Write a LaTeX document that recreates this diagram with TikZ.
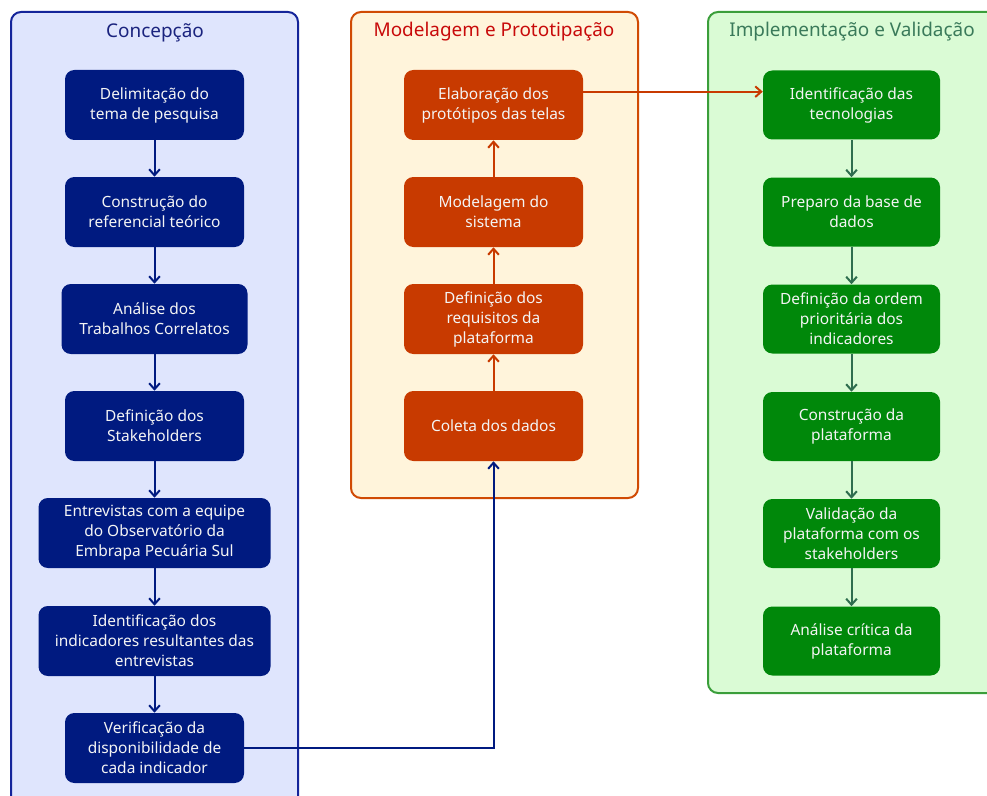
\documentclass[tikz,border=0pt]{standalone}
\usepackage{fontspec}
\setmainfont{Noto Sans}
\usetikzlibrary{arrows.meta}

\definecolor{cpanelfill}{HTML}{DFE5FD}
\definecolor{cpanelline}{HTML}{14249A}
\definecolor{cbox}{HTML}{001A80}
\definecolor{ctitle}{HTML}{1A237E}
\definecolor{mpanelfill}{HTML}{FFF4DB}
\definecolor{mpanelline}{HTML}{D04A04}
\definecolor{mbox}{HTML}{C83A00}
\definecolor{mtitle}{HTML}{C80A0A}
\definecolor{ipanelfill}{HTML}{DAFBD5}
\definecolor{ipanelline}{HTML}{3A9E3A}
\definecolor{ibox}{HTML}{00880A}
\definecolor{iarrow}{HTML}{2F6E4F}
\definecolor{ititle}{HTML}{3A7A5A}
\definecolor{boxtext}{HTML}{F4F4F4}

\tikzset{
  panel/.style={line width=1.5pt, rounded corners=7.5pt},
  stepbox/.style={rounded corners=7pt, text=boxtext, align=center,
    font=\fontsize{11.6}{15}\selectfont, inner sep=0pt,
    minimum width=134.25pt, minimum height=52.5pt},
  greenbox/.style={stepbox, fill=ibox, minimum width=132.75pt, minimum height=51.75pt},
  ptitle/.style={font=\fontsize{14.2}{17}\selectfont, inner sep=0pt},
  flowarrow/.style={line width=1.5pt, -{Straight Barb[length=4.5pt,width=8pt,line width=1.5pt]}},
}

\begin{document}
\begin{tikzpicture}[x=0.75pt, y=-0.75pt]
\useasboundingbox (0,0) rectangle (987,795);
\clip (0,0) rectangle (987,795);

% phase panels
\draw[panel, draw=cpanelline, fill=cpanelfill] (11,12) rectangle (298,820);
\draw[panel, draw=mpanelline, fill=mpanelfill] (351,12) rectangle (638,498);
\draw[panel, draw=ipanelline, fill=ipanelfill] (708,12) rectangle (1010,693);

\node[ptitle, text=ctitle] (tc) at (155,33) {Concepção};
\node[ptitle, text=mtitle] (tm) at (494,32) {Modelagem e Prototipação};
\node[ptitle, text=ititle] (ti) at (852,32) {Implementação e Validação};

% Concepção
\node[stepbox, fill=cbox] (c1) at (154.5,105) {Delimitação do\\tema de pesquisa};
\node[stepbox, fill=cbox] (c2) at (154.5,212) {Construção do\\referencial teórico};
\node[stepbox, fill=cbox, minimum width=139.5pt] (c3) at (154.5,319) {Análise dos\\Trabalhos Correlatos};
\node[stepbox, fill=cbox] (c4) at (154.5,426) {Definição dos\\Stakeholders};
\node[stepbox, fill=cbox, minimum width=174pt] (c5) at (154.5,533) {Entrevistas com a equipe\\do Observatório da\\Embrapa Pecuária Sul};
\node[stepbox, fill=cbox, minimum width=174pt] (c6) at (154.5,641) {Identificação dos\\indicadores resultantes das\\entrevistas};
\node[stepbox, fill=cbox] (c7) at (154.5,748) {Verificação da\\disponibilidade de\\cada indicador};

% Modelagem e Prototipação
\node[stepbox, fill=mbox] (m4) at (493.5,105) {Elaboração dos\\protótipos das telas};
\node[stepbox, fill=mbox] (m3) at (493.5,212) {Modelagem do\\sistema};
\node[stepbox, fill=mbox] (m2) at (493.5,319) {Definição dos\\requisitos da\\plataforma};
\node[stepbox, fill=mbox] (m1) at (493.5,426) {Coleta dos dados};

% Implementação e Validação
\node[greenbox] (i1) at (851.5,105) {Identificação das\\tecnologias};
\node[greenbox] (i2) at (851.5,212) {Preparo da base de\\dados};
\node[greenbox] (i3) at (851.5,319) {Definição da ordem\\prioritária dos\\indicadores};
\node[greenbox] (i4) at (851.5,426.5) {Construção da\\plataforma};
\node[greenbox] (i5) at (851.5,533.5) {Validação da\\plataforma com os\\stakeholders};
\node[greenbox] (i6) at (851.5,641) {Análise crítica da\\plataforma};

% connectors
\foreach \a/\b in {c1/c2, c2/c3, c3/c4, c4/c5, c5/c6, c6/c7}
  \draw[flowarrow, draw=cbox] (\a.south) -- (\a.south |- \b.north);
\foreach \a/\b in {m1/m2, m2/m3, m3/m4}
  \draw[flowarrow, draw=mbox] (\a.north) -- (\a.north |- \b.south);
\foreach \a/\b in {i1/i2, i2/i3, i3/i4, i4/i5, i5/i6}
  \draw[flowarrow, draw=iarrow] (\a.south) -- (\a.south |- \b.north);

\draw[flowarrow, draw=cbox] (c7.east) -| (m1.south);
\draw[flowarrow, draw=mbox] ([yshift=10pt]m4.east) -- ([yshift=10pt]m4.east -| i1.west);
\end{tikzpicture}
\end{document}
